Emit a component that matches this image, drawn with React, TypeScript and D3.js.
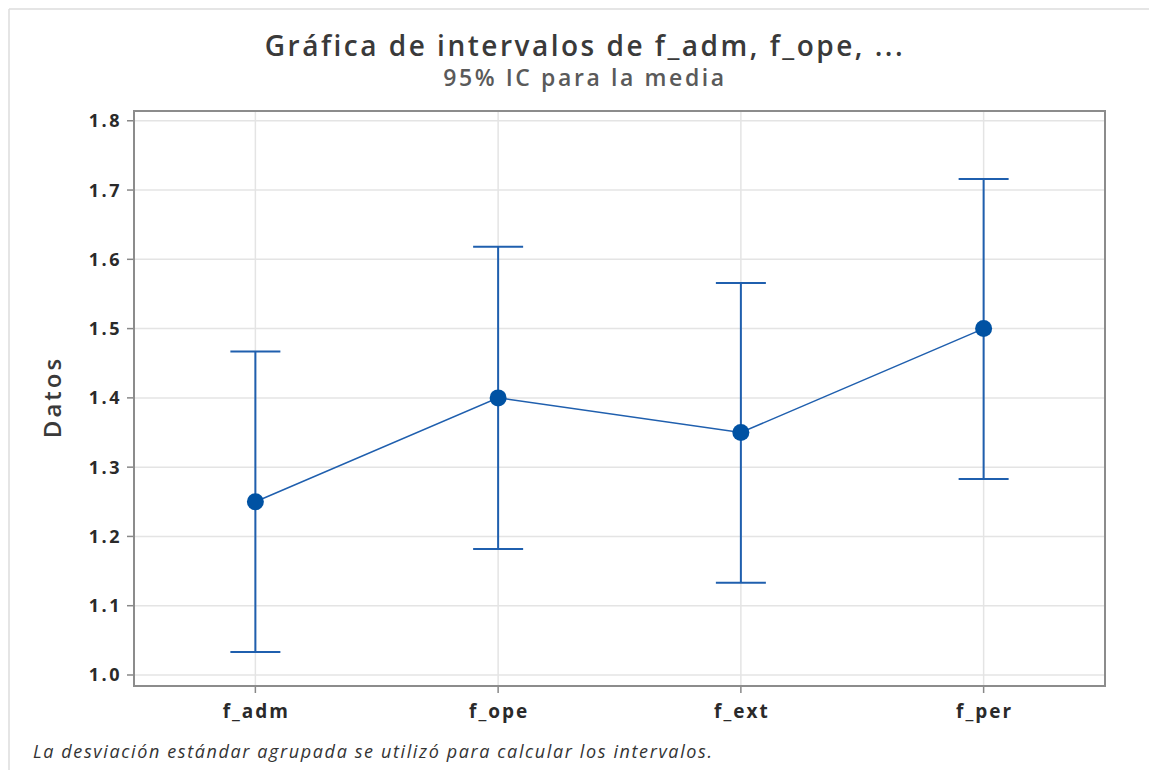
import React from "react";
import * as d3 from "d3";

const categories = ["f_adm", "f_ope", "f_ext", "f_per"];
const means = [1.25, 1.40, 1.35, 1.50];
const lowers = [1.033, 1.182, 1.133, 1.283];
const uppers = [1.467, 1.618, 1.566, 1.716];
const yTicks = [1.0, 1.1, 1.2, 1.3, 1.4, 1.5, 1.6, 1.7, 1.8];

const W = 1149;
const H = 770;
const left = 134;
const right = 1105;
const top = 111;
const bottom = 686;
const FONT = "'Open Sans', 'Noto Sans', sans-serif";
const BLUE = "#1f5fae";
const DARK = "#0052a3";

export default function App() {
  const x = d3.scalePoint<string>().domain(categories).range([left, right]).padding(0.5);
  const y = d3.scaleLinear().domain([0.9841, 1.8141]).range([bottom, top]);
  const line = d3
    .line<number>()
    .x((_, i) => x(categories[i]) as number)
    .y((d) => y(d));
  const cap = 25;
  return (
    <svg
      width={W}
      height={H}
      style={{ position: "absolute", left: 0, top: 0, background: "#fff" }}
      fontFamily={FONT}
    >
      <rect x={0} y={0} width={W} height={H} fill="#fff" />
      <line x1={9} x2={W} y1={9} y2={9} stroke="#dcdcdc" strokeWidth={1.5} />
      <line x1={9} x2={9} y1={9} y2={H} stroke="#dcdcdc" strokeWidth={1.5} />
      <text x={585} y={56} textAnchor="middle" fontSize={28} fontWeight={600} fill="#3a3a3a" letterSpacing={2.5}>
        Gráfica de intervalos de f_adm, f_ope, ...
      </text>
      <text x={585} y={86} textAnchor="middle" fontSize={23} fontWeight={600} fill="#5a5a5a" letterSpacing={2.6}>
        95% IC para la media
      </text>
      {yTicks.map((t) => (
        <g key={t}>
          <line x1={left} x2={right} y1={y(t)} y2={y(t)} stroke="#e4e4e4" strokeWidth={1.5} />
          <line x1={127} x2={left} y1={y(t)} y2={y(t)} stroke="#888" strokeWidth={1.5} />
          <text x={122} y={y(t)} dy="0.36em" textAnchor="end" fontSize={18} fontWeight={700} fill="#2a2a2a" letterSpacing={2.5}>
            {t.toFixed(1)}
          </text>
        </g>
      ))}
      {categories.map((c) => (
        <g key={c}>
          <line x1={x(c)} x2={x(c)} y1={top} y2={bottom} stroke="#e4e4e4" strokeWidth={1.5} />
          <line x1={x(c)} x2={x(c)} y1={bottom} y2={bottom + 7} stroke="#888" strokeWidth={1.5} />
          <text x={(x(c) as number) + 1} y={718} textAnchor="middle" fontSize={19} fontWeight={700} fill="#2a2a2a" letterSpacing={2}>
            {c}
          </text>
        </g>
      ))}
      <rect
        x={left}
        y={top}
        width={right - left}
        height={bottom - top}
        fill="none"
        stroke="#8c8c8c"
        strokeWidth={2}
      />
      <text
        transform={`translate(61,397) rotate(-90)`}
        textAnchor="middle"
        fontSize={24}
        fontWeight={600}
        fill="#3a3a3a"
        letterSpacing={3}
      >
        Datos
      </text>
      <path d={line(means) || ""} fill="none" stroke={BLUE} strokeWidth={1.5} />
      {categories.map((c, i) => {
        const cx = x(c) as number;
        return (
          <g key={c}>
            <line x1={cx} x2={cx} y1={y(lowers[i])} y2={y(uppers[i])} stroke={BLUE} strokeWidth={2} />
            <line x1={cx - cap} x2={cx + cap} y1={y(uppers[i])} y2={y(uppers[i])} stroke={BLUE} strokeWidth={2} />
            <line x1={cx - cap} x2={cx + cap} y1={y(lowers[i])} y2={y(lowers[i])} stroke={BLUE} strokeWidth={2} />
            <circle cx={cx} cy={y(means[i])} r={8.5} fill={DARK} />
          </g>
        );
      })}
      <text x={33} y={758} fontSize={18} fontStyle="italic" fill="#333" letterSpacing={1.62}>
        La desviación estándar agrupada se utilizó para calcular los intervalos.
      </text>
    </svg>
  );
}
